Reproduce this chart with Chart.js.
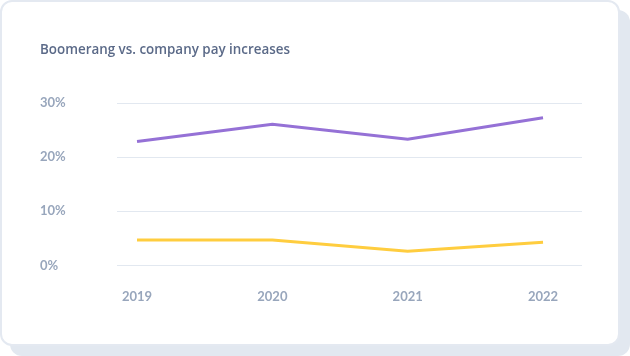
<!DOCTYPE html>
<html>
<head>
<meta charset="utf-8">
<script src="https://cdn.jsdelivr.net/npm/chart.js@4"></script>
<style>
  html, body { margin: 0; padding: 0; background: #ffffff; width: 630px; height: 356px; overflow: hidden; }
  #card {
    position: absolute; left: 0; top: 0; width: 616px; height: 342px;
    background: #ffffff; border: 2px solid #e4e9f1; border-radius: 12px;
    box-shadow: 10px 10px 0 0 #e2e8f0;
  }
  #wrap { position: absolute; left: 0; top: 0; width: 620px; height: 346px; }
</style>
</head>
<body>
<div id="card"></div>
<div id="wrap"><canvas id="c" width="620" height="346"></canvas></div>
<script>
const titleText = "Boomerang vs. company pay increases";
const years = ["2019", "2020", "2021", "2022"];
const boomerang = [22.9, 26.1, 23.3, 27.3];
const company = [4.7, 4.7, 2.6, 4.3];
const yTicks = [0, 10, 20, 30];

const toPoints = arr => arr.map((v, i) => ({ x: i, y: v }));
const tickFont = { family: "Lato", size: 13, weight: "bold" };

new Chart(document.getElementById("c"), {
  type: "line",
  data: {
    datasets: [
      { label: "Boomerang", data: toPoints(boomerang), borderColor: "#9571d6", borderWidth: 3, pointRadius: 0, tension: 0, fill: false },
      { label: "Company", data: toPoints(company), borderColor: "#ffcd3f", borderWidth: 3, pointRadius: 0, tension: 0, fill: false }
    ]
  },
  options: {
    responsive: false,
    animation: false,
    layout: { padding: { left: 40, right: 38, top: 0, bottom: 17 } },
    plugins: {
      legend: { display: false },
      tooltip: { enabled: false },
      title: {
        display: true, text: titleText, align: "start",
        color: "#5b6a88",
        font: { family: "Open Sans", size: 13.4, weight: "600" },
        padding: { top: 42, bottom: 45 }
      }
    },
    scales: {
      x: {
        type: "linear",
        min: -0.148, max: 3.288,
        afterBuildTicks: s => { s.ticks = years.map((y, i) => ({ value: i })); },
        ticks: { callback: (v) => years[v], color: "#98a6bc", font: tickFont, padding: 24, maxRotation: 0, autoSkip: false },
        grid: { display: false, drawTicks: false },
        border: { display: false }
      },
      y: {
        min: 0, max: 30,
        afterBuildTicks: s => { s.ticks = yTicks.map(v => ({ value: v })); },
        afterFit: s => { s.width = 77; },
        ticks: { callback: v => v + "%", color: "#98a6bc", font: tickFont, crossAlign: "far", padding: 10 },
        grid: { color: "#e2e8f0", lineWidth: 1, drawTicks: false },
        border: { display: false }
      }
    }
  }
});
</script>
</body>
</html>
